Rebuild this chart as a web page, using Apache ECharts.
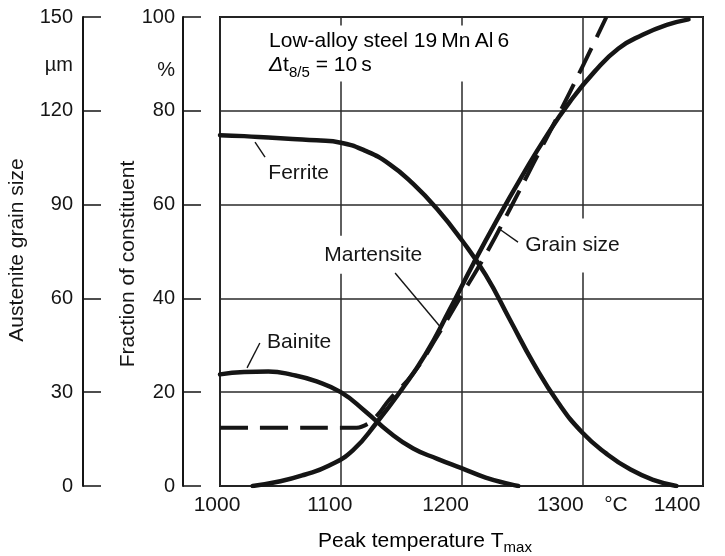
<!DOCTYPE html>
<html>
<head>
<meta charset="utf-8">
<script src="https://cdn.jsdelivr.net/npm/echarts@6/dist/echarts.min.js"></script>
<style>
  html, body { margin: 0; padding: 0; background: #ffffff; }
  #chart { width: 725px; height: 556px; }
</style>
</head>
<body>
<div id="chart"></div>
<script>
// Axis ticks
const temperatureTicks = [1000, 1100, 1200, 1300, 1400];   // °C
const fractionTicks = [0, 20, 40, 60, 80, 100];            // %
const grainTicks = [0, 30, 60, 90, 120, 150];              // µm

// Ferrite fraction (%) against peak temperature (°C)
const ferriteT = [1000, 1020, 1040, 1060, 1080, 1100, 1120, 1140, 1160, 1180, 1200, 1220, 1240, 1260, 1280, 1300, 1320, 1340, 1360, 1378];
const ferriteFraction = [74.8, 74.6, 74.3, 74.0, 73.7, 73.2, 71.5, 68.7, 64.4, 59.0, 52.5, 45.0, 35.5, 26.0, 17.8, 11.4, 6.9, 3.5, 1.2, 0];

// Bainite fraction (%)
const bainiteT = [1000, 1020, 1040, 1060, 1080, 1100, 1120, 1140, 1160, 1180, 1200, 1220, 1240, 1247];
const bainiteFraction = [23.8, 24.3, 24.4, 23.7, 22.3, 20.0, 16.0, 11.5, 8.0, 5.8, 3.8, 1.8, 0.4, 0];

// Martensite fraction (%)
const martensiteT = [1027, 1050, 1070, 1090, 1110, 1130, 1150, 1170, 1190, 1210, 1230, 1250, 1270, 1290, 1310, 1330, 1350, 1370, 1388];
const martensiteFraction = [0, 1.0, 2.4, 4.3, 7.6, 13.6, 20.4, 28.0, 37.5, 47.5, 57.0, 66.0, 74.5, 82.0, 88.3, 93.3, 96.2, 98.3, 99.5];

// Austenite grain size (µm)
const grainT = [1000, 1050, 1110, 1120, 1130, 1140, 1160, 1180, 1200, 1220, 1240, 1260, 1280, 1300, 1320];
const grainSize = [18.6, 18.6, 18.6, 19.4, 22.5, 27.5, 36.0, 48.0, 61.0, 74.0, 88.5, 103.5, 118.5, 134.0, 150.0];

const pairs = (xs, ys) => xs.map((x, i) => [x, ys[i]]);

const INK = '#151515';
const GRID = '#2a2a2a';
const FONT = '"Liberation Sans", Arial, Helvetica, sans-serif';

// Per-label nudge (px, to the left) of the temperature labels
const labelNudge = { 1000: 3, 1100: 11, 1200: 16, 1300: 22, 1400: 26 };
const xRich = {};
temperatureTicks.forEach(t => {
  xRich['t' + t] = { padding: [0, 2 * labelNudge[t], 0, 0], fontSize: 21, fontFamily: FONT, color: INK };
});

const curve = (name, data, axis, extra) => Object.assign({
  type: 'line',
  name: name,
  data: data,
  yAxisIndex: axis,
  smooth: 0.5,
  symbol: 'none',
  showSymbol: false,
  clip: true,
  z: 3,
  lineStyle: { color: INK, width: 4.5, cap: 'round' }
}, extra || {});

const option = {
  animation: false,
  backgroundColor: '#ffffff',
  grid: {
    left: 220, right: 22, top: 17, bottom: 70,
    show: true, borderColor: INK, borderWidth: 2, backgroundColor: 'transparent'
  },
  xAxis: {
    type: 'value',
    min: temperatureTicks[0],
    max: temperatureTicks[temperatureTicks.length - 1],
    interval: temperatureTicks[1] - temperatureTicks[0],
    axisLine: { show: false },
    axisTick: { show: false },
    splitLine: { show: true, lineStyle: { color: GRID, width: 1.5 } },
    axisLabel: {
      margin: 9,
      showMinLabel: true,
      showMaxLabel: true,
      fontSize: 21,
      fontFamily: FONT,
      color: INK,
      formatter: v => '{t' + v + '|' + v + '}',
      rich: xRich
    }
  },
  yAxis: [
    {
      type: 'value',
      min: fractionTicks[0],
      max: fractionTicks[fractionTicks.length - 1],
      interval: fractionTicks[1] - fractionTicks[0],
      position: 'left',
      offset: 37,
      axisLine: { show: true, lineStyle: { color: INK, width: 2 } },
      axisTick: { show: true, inside: true, length: 18, lineStyle: { color: INK, width: 1.5 } },
      axisLabel: { margin: 8, fontSize: 20, fontFamily: FONT, color: INK, showMinLabel: true, showMaxLabel: true },
      splitLine: { show: true, lineStyle: { color: GRID, width: 1.5 } }
    },
    {
      type: 'value',
      min: grainTicks[0],
      max: grainTicks[grainTicks.length - 1],
      interval: grainTicks[1] - grainTicks[0],
      position: 'left',
      offset: 137,
      axisLine: { show: true, lineStyle: { color: INK, width: 2 } },
      axisTick: { show: true, inside: true, length: 18, lineStyle: { color: INK, width: 1.5 } },
      axisLabel: { margin: 10, fontSize: 20, fontFamily: FONT, color: INK, showMinLabel: true, showMaxLabel: true },
      splitLine: { show: false }
    }
  ],
  series: [
    curve('Ferrite', pairs(ferriteT, ferriteFraction), 0),
    curve('Bainite', pairs(bainiteT, bainiteFraction), 0),
    curve('Martensite', pairs(martensiteT, martensiteFraction), 0),
    curve('Grain size', pairs(grainT, grainSize), 1, {
      lineStyle: { color: INK, width: 4, type: [28, 12], cap: 'butt' }
    })
  ]
};

const chart = echarts.init(document.getElementById('chart'), null, { renderer: 'canvas' });
chart.setOption(option);

// Annotations placed in (°C, %) coordinates of the plot
const at = (t, v) => chart.convertToPixel({ xAxisIndex: 0, yAxisIndex: 0 }, [t, v]);

const baseText = { fontSize: 21, fontFamily: FONT, fill: INK };

function label(text, t, v, extra) {
  const p = at(t, v);
  return {
    type: 'text', x: p[0], y: p[1], z: 1,
    style: Object.assign({ text: text, align: 'left', verticalAlign: 'middle' }, baseText, extra || {})
  };
}

function leader(t1, v1, t2, v2) {
  const a = at(t1, v1), b = at(t2, v2);
  return {
    type: 'line', z: 10,
    shape: { x1: a[0], y1: a[1], x2: b[0], y2: b[1] },
    style: { stroke: INK, lineWidth: 1.4 }
  };
}

const titlePos = at(1040.6, 92.2);
const headerRich = {
  a: { fontSize: 21, fontFamily: FONT, color: INK, lineHeight: 24, verticalAlign: 'middle' },
  d: { fontSize: 21, fontFamily: FONT, color: INK, fontStyle: 'italic', lineHeight: 24, verticalAlign: 'middle' },
  s: { fontSize: 15, fontFamily: FONT, color: INK, lineHeight: 14, padding: [14, 0, 0, 0], verticalAlign: 'middle' }
};

const graphics = [
  // material and cooling time
  {
    type: 'text', x: titlePos[0] - 7, y: titlePos[1], z: 1,
    style: {
      text: '{a|Low-alloy steel 19\u2009Mn\u2009Al\u20096}\n{d|\u0394}{a|t}{s|8/5}{a| = 10\u2009s}',
      rich: headerRich,
      align: 'left', verticalAlign: 'middle',
      backgroundColor: '#ffffff', padding: [4, 7, 4, 7]
    }
  },
  label('Ferrite', 1040, 66.7),
  label('Bainite', 1039, 30.7),
  label('Martensite', 1083, 49.3, { backgroundColor: '#ffffff', padding: [7, 4, 10, 4] }),
  label('Grain size', 1249.5, 51.3, { backgroundColor: '#ffffff', padding: [13, 4, 20, 4] }),
  leader(1029, 73.3, 1037.3, 70.1),
  leader(1145, 45.4, 1182.2, 34.0),
  leader(1033, 30.5, 1022.4, 25.2),
  leader(1230.2, 55, 1246.8, 52),

  // units
  { type: 'text', x: 73, y: 65, style: Object.assign({ text: '\u00b5m', align: 'right', verticalAlign: 'middle' }, baseText, { fontSize: 20 }) },
  { type: 'text', x: 175, y: 70, style: Object.assign({ text: '%', align: 'right', verticalAlign: 'middle' }, baseText, { fontSize: 20 }) },
  { type: 'text', x: 616, y: 505, style: Object.assign({ text: '\u00b0C', align: 'center', verticalAlign: 'middle' }, baseText) },

  // axis titles
  { type: 'text', x: 17, y: 250, rotation: Math.PI / 2,
    style: Object.assign({ text: 'Austenite grain size', align: 'center', verticalAlign: 'middle' }, baseText) },
  { type: 'text', x: 128, y: 264, rotation: Math.PI / 2,
    style: Object.assign({ text: 'Fraction of constituent', align: 'center', verticalAlign: 'middle' }, baseText) },
  { type: 'text', x: 318, y: 541,
    style: {
      text: '{a|Peak temperature T}{s|max}',
      align: 'left', verticalAlign: 'middle',
      rich: {
        a: { fontSize: 21, fontFamily: FONT, color: INK, lineHeight: 24, verticalAlign: 'middle' },
        s: { fontSize: 15, fontFamily: FONT, color: INK, lineHeight: 14, padding: [14, 0, 0, 0], verticalAlign: 'middle' }
      }
    } }
];

chart.setOption({ graphic: { elements: graphics } });
</script>
</body>
</html>
